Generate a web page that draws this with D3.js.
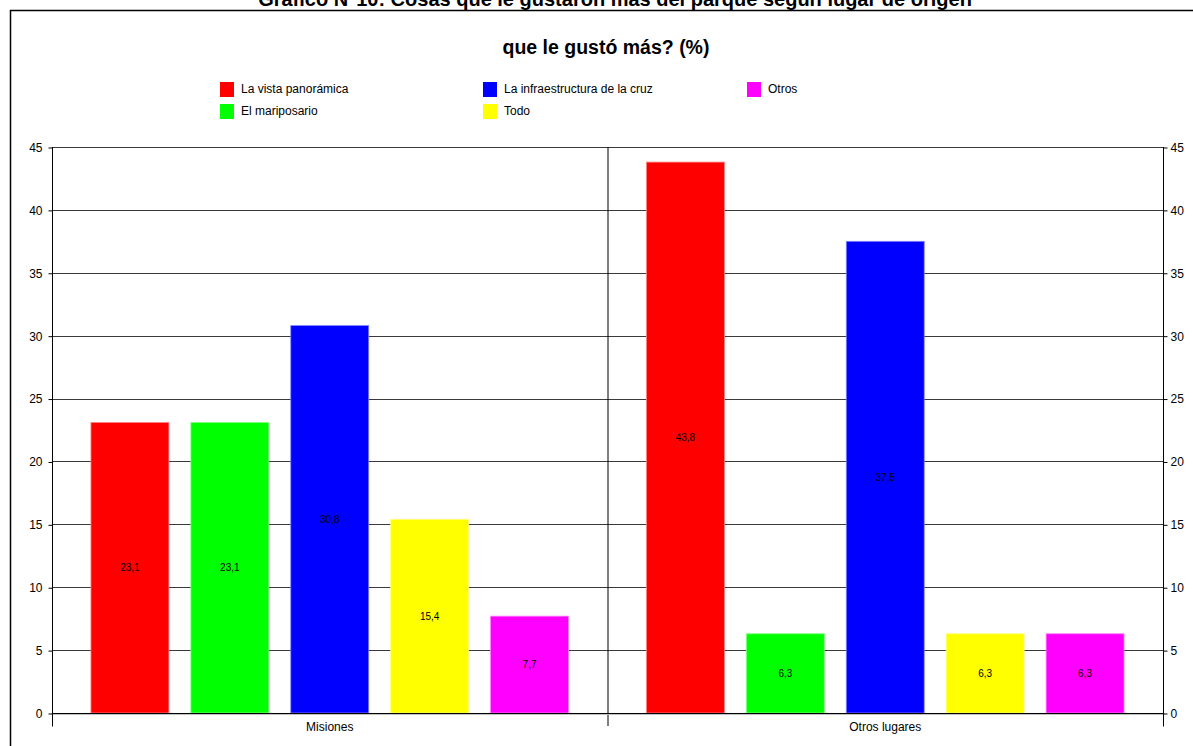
<!DOCTYPE html>
<html>
<head>
<meta charset="utf-8">
<script src="https://cdn.jsdelivr.net/npm/d3@7"></script>
<style>
  html, body { margin: 0; padding: 0; background: #fff; }
  svg { display: block; font-family: Arial, "Liberation Sans", sans-serif; }
</style>
</head>
<body>
<svg id="chart" width="1193" height="746"></svg>
<script>
const titleLine1 = "Gráfico N°10: Cosas que le gustaron más del parque según lugar de origen";
const titleLine2 = "que le gustó más? (%)";
const categories = ["Misiones", "Otros lugares"];
const seriesNames = ["La vista panorámica", "El mariposario", "La infraestructura de la cruz", "Todo", "Otros"];
const seriesColors = ["#ff0000", "#00ff00", "#0000ff", "#ffff00", "#ff00ff"];
const valuesMisiones = [23.1, 23.1, 30.8, 15.4, 7.7];
const valuesOtros = [43.8, 6.3, 37.5, 6.3, 6.3];
const yTicks = [0, 5, 10, 15, 20, 25, 30, 35, 40, 45];

const values = [valuesMisiones, valuesOtros];
const svg = d3.select("#chart");

const plot = { left: 52, right: 1163, top: 147, bottom: 713 };

const x0 = d3.scaleBand().domain(categories).range([plot.left, plot.right]).padding(0);
const x1 = d3.scaleBand().domain(d3.range(seriesNames.length))
  .range([0, x0.bandwidth()]).paddingInner(0.22).paddingOuter(0.39);
const y = d3.scaleLinear().domain([0, 45]).range([plot.bottom, plot.top]);

// Outer frame
svg.append("path").attr("d", "M10.5,746 V10.5 H1193")
  .attr("fill", "none").attr("stroke", "#000").attr("stroke-width", 1.5);

// Titles (first line is partly cut off at the top, as in the source)
svg.append("text").attr("x", 615).attr("y", 6).attr("text-anchor", "middle")
  .attr("font-size", 20).attr("font-weight", "bold").text(titleLine1);
svg.append("text").attr("x", 606).attr("y", 54).attr("text-anchor", "middle")
  .attr("font-size", 19.5).attr("font-weight", "bold").text(titleLine2);

// Legend (column-major, 2 rows)
const legendCols = [220, 483, 747];
const legendRows = [89, 111];
seriesNames.forEach((name, i) => {
  const col = Math.floor(i / 2), row = i % 2;
  const g = svg.append("g").attr("transform", `translate(${legendCols[col]},${legendRows[row]})`);
  g.append("rect").attr("x", 0).attr("y", -7).attr("width", 14).attr("height", 15).attr("fill", seriesColors[i]);
  g.append("text").attr("x", 21).attr("y", 0).attr("dy", "0.35em").attr("font-size", 12)
    .attr("fill", "#000").text(name);
});

// Horizontal gridlines
svg.append("g").selectAll("line").data(yTicks.filter(t => t > 0)).join("line")
  .attr("x1", plot.left).attr("x2", plot.right)
  .attr("y1", d => Math.round(y(d)) + 0.5).attr("y2", d => Math.round(y(d)) + 0.5)
  .attr("stroke", "#3a3a3a").attr("stroke-width", 1);

// Category divider
svg.append("line").attr("x1", x0("Otros lugares") + 0.5).attr("x2", x0("Otros lugares") + 0.5)
  .attr("y1", plot.top).attr("y2", plot.bottom + 13)
  .attr("stroke", "#000");

// Bars
categories.forEach((cat, ci) => {
  const g = svg.append("g").attr("transform", `translate(${x0(cat)},0)`);
  g.selectAll("rect").data(values[ci]).join("rect")
    .attr("x", (d, i) => x1(i))
    .attr("y", d => y(d))
    .attr("width", x1.bandwidth())
    .attr("height", d => y(0) - y(d))
    .attr("fill", (d, i) => seriesColors[i])
    .attr("stroke", (d, i) => d3.interpolateRgb(seriesColors[i], "#ffffff")(0.5))
    .attr("stroke-width", 0.8);
  g.selectAll("text").data(values[ci]).join("text")
    .attr("x", (d, i) => x1(i) + x1.bandwidth() / 2)
    .attr("y", d => (y(d) + y(0)) / 2)
    .attr("dy", "0.35em")
    .attr("text-anchor", "middle")
    .attr("font-size", 10)
    .attr("fill", "#000")
    .text(d => d3.format(".1f")(d).replace(".", ","));
});

// Zero line with shadow
svg.append("line").attr("x1", plot.left).attr("x2", plot.right)
  .attr("y1", plot.bottom + 1.5).attr("y2", plot.bottom + 1.5).attr("stroke", "#c0c0c0");
svg.append("line").attr("x1", plot.left).attr("x2", plot.right)
  .attr("y1", plot.bottom + 0.5).attr("y2", plot.bottom + 0.5).attr("stroke", "#000");

// Left axis
const leftAxis = d3.axisLeft(y).tickValues(yTicks).tickSize(4).tickPadding(6);
const gl = svg.append("g").attr("transform", `translate(${plot.left + 0.5},0.5)`).call(leftAxis);
gl.select(".domain").remove();
gl.append("line").attr("x1", 0).attr("x2", 0).attr("y1", plot.top - 0.5).attr("y2", plot.bottom + 13).attr("stroke", "#000");
gl.selectAll("text").attr("font-size", 12).attr("font-family", "Arial, 'Liberation Sans', sans-serif").attr("fill", "#000");

// Right axis
const rightAxis = d3.axisRight(y).tickValues(yTicks).tickSize(4).tickPadding(3);
const gr = svg.append("g").attr("transform", `translate(${plot.right + 0.5},0.5)`).call(rightAxis);
gr.select(".domain").remove();
gr.append("line").attr("x1", 0).attr("x2", 0).attr("y1", plot.top - 0.5).attr("y2", plot.bottom + 13).attr("stroke", "#000");
gr.selectAll("text").attr("font-size", 12).attr("font-family", "Arial, 'Liberation Sans', sans-serif").attr("fill", "#000");

// Bottom category labels
const bottomAxis = d3.axisBottom(x0).tickSize(0).tickPadding(9);
const gb = svg.append("g").attr("transform", `translate(0,${plot.bottom})`).call(bottomAxis);
gb.select(".domain").remove();
gb.selectAll("text").attr("font-size", 12).attr("font-family", "Arial, 'Liberation Sans', sans-serif").attr("fill", "#000");
</script>
</body>
</html>
